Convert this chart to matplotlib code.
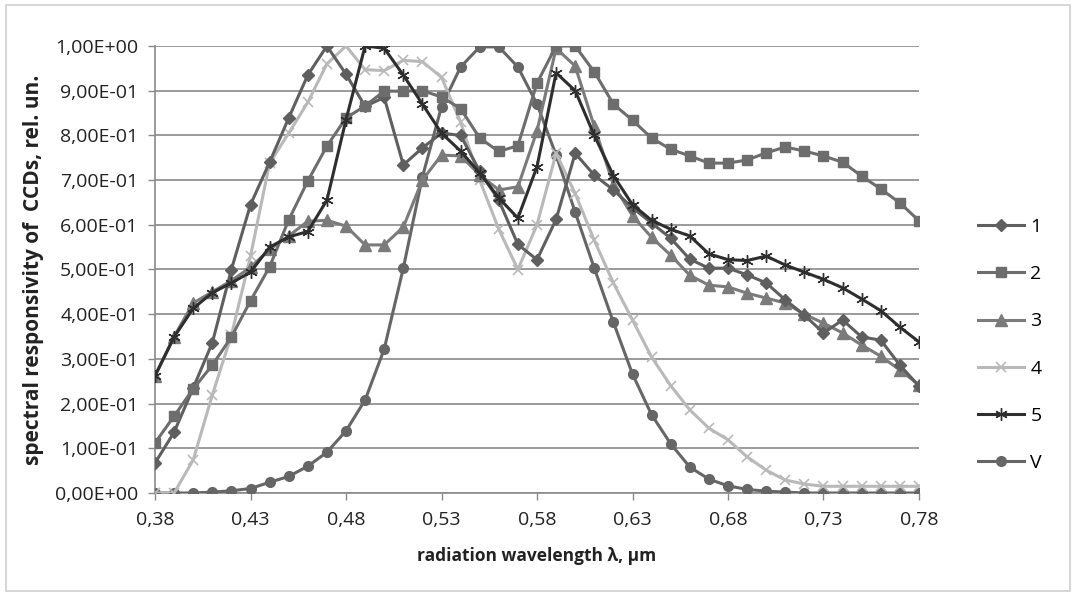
import matplotlib
matplotlib.use("Agg")
import matplotlib.pyplot as plt
from matplotlib.ticker import FuncFormatter, MultipleLocator, FixedLocator
from matplotlib.patches import Rectangle

wavelength = [0.38, 0.39, 0.40, 0.41, 0.42, 0.43, 0.44, 0.45, 0.46, 0.47,
              0.48, 0.49, 0.50, 0.51, 0.52, 0.53, 0.54, 0.55, 0.56, 0.57,
              0.58, 0.59, 0.60, 0.61, 0.62, 0.63, 0.64, 0.65, 0.66, 0.67,
              0.68, 0.69, 0.70, 0.71, 0.72, 0.73, 0.74, 0.75, 0.76, 0.77, 0.78]

s1 = [0.067, 0.136, 0.235, 0.336, 0.500, 0.645, 0.740, 0.839, 0.935, 1.000,
      0.937, 0.865, 0.885, 0.734, 0.772, 0.805, 0.800, 0.720, 0.655, 0.556,
      0.522, 0.612, 0.760, 0.711, 0.678, 0.638, 0.604, 0.570, 0.523, 0.503,
      0.503, 0.488, 0.470, 0.432, 0.398, 0.358, 0.387, 0.349, 0.342, 0.286, 0.239]

s2 = [0.112, 0.172, 0.233, 0.286, 0.349, 0.430, 0.506, 0.611, 0.698, 0.776,
      0.839, 0.866, 0.899, 0.899, 0.900, 0.886, 0.860, 0.794, 0.764, 0.777,
      0.917, 1.000, 1.000, 0.942, 0.870, 0.834, 0.794, 0.769, 0.754, 0.738,
      0.738, 0.745, 0.761, 0.774, 0.765, 0.754, 0.740, 0.709, 0.680, 0.649, 0.609]

s3 = [0.262, 0.350, 0.425, 0.450, 0.475, 0.505, 0.545, 0.575, 0.608, 0.610,
      0.597, 0.555, 0.555, 0.595, 0.700, 0.756, 0.754, 0.712, 0.678, 0.685,
      0.810, 0.995, 0.955, 0.820, 0.690, 0.620, 0.572, 0.532, 0.487, 0.465,
      0.461, 0.447, 0.436, 0.425, 0.400, 0.380, 0.358, 0.331, 0.306, 0.275, 0.242]

s4 = [0.000, 0.000, 0.074, 0.219, 0.353, 0.530, 0.738, 0.805, 0.874, 0.960,
      1.000, 0.947, 0.945, 0.968, 0.965, 0.930, 0.830, 0.700, 0.590, 0.500,
      0.600, 0.760, 0.670, 0.565, 0.470, 0.387, 0.304, 0.240, 0.186, 0.145,
      0.119, 0.081, 0.051, 0.029, 0.020, 0.015, 0.015, 0.015, 0.015, 0.015, 0.015]

s5 = [0.262, 0.349, 0.413, 0.448, 0.470, 0.494, 0.550, 0.573, 0.585, 0.655,
      0.835, 1.000, 0.995, 0.935, 0.870, 0.805, 0.765, 0.716, 0.660, 0.615,
      0.730, 0.940, 0.900, 0.800, 0.710, 0.645, 0.610, 0.590, 0.575, 0.535,
      0.522, 0.520, 0.530, 0.510, 0.494, 0.478, 0.459, 0.434, 0.408, 0.371, 0.338]

sV = [0.000, 0.000, 0.000, 0.002, 0.005, 0.010, 0.024, 0.037, 0.060, 0.091,
      0.139, 0.208, 0.322, 0.503, 0.707, 0.864, 0.953, 0.998, 0.998, 0.953,
      0.870, 0.756, 0.628, 0.503, 0.382, 0.266, 0.175, 0.110, 0.058, 0.031,
      0.016, 0.008, 0.004, 0.002, 0.000, 0.000, 0.000, 0.000, 0.000, 0.000, 0.000]

series_labels = ["1", "2", "3", "4", "5", "V"]
x_ticks = [0.38, 0.43, 0.48, 0.53, 0.58, 0.63, 0.68, 0.73, 0.78]

plt.rcParams['font.family'] = ['Open Sans', 'DejaVu Sans']

fig = plt.figure(figsize=(10.76, 5.95), dpi=100)
ax = fig.add_axes([155/1076, 1 - 493/595, (919-155)/1076, (493-46)/595])

styles = [
    dict(color="#5f5f5f", marker="D", ms=6.5, lw=2.2),
    dict(color="#6d6d6d", marker="s", ms=7.5, lw=2.2),
    dict(color="#7b7b7b", marker="^", ms=8, lw=2.2),
    dict(color="#b9b9b9", marker="x", ms=7, lw=2.2, mew=1.2),
    dict(color="#2e2e2e", marker=(6, 2, 0), ms=9, lw=2.2, mew=1.0),
    dict(color="#666666", marker="o", ms=7, lw=2.2),
]

data = [s1, s2, s3, s4, s5, sV]
order = [5, 3, 2, 0, 1, 4]
lines = {}
for i in order:
    st = styles[i]
    ln, = ax.plot(wavelength, data[i], color=st["color"], lw=st["lw"],
                  marker=st["marker"], ms=st["ms"], mec=st["color"], mfc=st["color"],
                  mew=st.get("mew", 1.0), label=series_labels[i], zorder=3,
                  solid_joinstyle="round")
    lines[i] = ln

ax.set_xlim(0.38, 0.78)
ax.set_ylim(0, 1.0)
ax.xaxis.set_major_locator(FixedLocator(x_ticks))
ax.yaxis.set_major_locator(MultipleLocator(0.1))
ax.xaxis.set_major_formatter(FuncFormatter(lambda v, p: f"{v:.2f}".replace(".", ",")))
ax.yaxis.set_major_formatter(FuncFormatter(lambda v, p: f"{v:.2E}".replace(".", ",")))

ax.grid(axis="y", color="#9a9a9a", lw=1.4)
ax.set_axisbelow(True)
for sp in ["top", "right"]:
    ax.spines[sp].set_visible(False)
for sp in ["left", "bottom"]:
    ax.spines[sp].set_color("#8a8a8a")
    ax.spines[sp].set_linewidth(1.2)
ax.tick_params(axis="y", direction="out", length=5, width=1.0, color="#8a8a8a",
               labelsize=14, labelcolor="#222222", pad=7)
ax.tick_params(axis="x", direction="out", length=5, width=1.0, color="#8a8a8a",
               labelsize=14, labelcolor="#222222", pad=8)

ax.set_xlabel("radiation wavelength λ, μm", fontsize=12.5, fontweight="bold", color="#222222")
ax.set_ylabel("spectral responsivity of  CCDs, rel. un.", fontsize=15, fontweight="bold",
              color="#222222")
ax.xaxis.set_label_coords(0.5, (493 - 556) / 447)
ax.xaxis.label.set_va("center")
ax.yaxis.set_label_coords((33 - 155) / 764, 0.5)
ax.yaxis.label.set_va("center")

handles = [lines[i] for i in range(6)]
fig.legend(handles, series_labels, loc="center left", bbox_to_anchor=(970/1076, 1 - 345/595),
           frameon=False, fontsize=14, handlelength=2.4, handletextpad=0.3,
           labelspacing=1.5, borderaxespad=0)

fig.patches.append(Rectangle((0.006, 0.006), 0.988, 0.985, transform=fig.transFigure,
                             fill=False, edgecolor="#d0d0d0", lw=1.2))

fig.savefig("out.png", dpi=100, facecolor="white")
